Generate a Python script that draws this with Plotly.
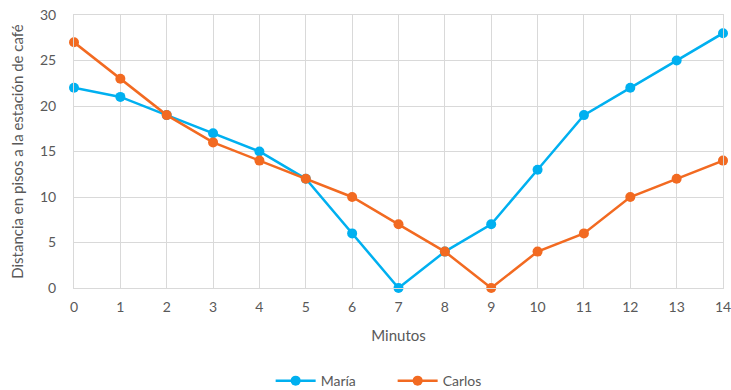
import plotly.graph_objects as go

minutos = list(range(15))
maria = [22, 21, 19, 17, 15, 12, 6, 0, 4, 7, 13, 19, 22, 25, 28]
carlos = [27, 23, 19, 16, 14, 12, 10, 7, 4, 0, 4, 6, 10, 12, 14]

font_color = "#595959"
grid_color = "#D9D9D9"
font_family = "Lato, Open Sans, sans-serif"

fig = go.Figure()
fig.add_trace(go.Scatter(
    x=minutos, y=maria, name="María", mode="lines+markers",
    line=dict(color="#00B0F0", width=2.5),
    marker=dict(size=10, color="#00B0F0"),
    cliponaxis=False,
))
fig.add_trace(go.Scatter(
    x=minutos, y=carlos, name="Carlos", mode="lines+markers",
    line=dict(color="#F26A21", width=2.5),
    marker=dict(size=10, color="#F26A21"),
    cliponaxis=False,
))

fig.update_layout(
    width=731, height=390,
    margin=dict(l=74, r=8, t=15, b=102, autoexpand=False),
    paper_bgcolor="white", plot_bgcolor="white",
    font=dict(family=font_family, size=14, color=font_color),
    showlegend=True,
    legend=dict(orientation="h", x=0.303, xanchor="left",
                yref="container", y=0.023, yanchor="middle",
                font=dict(size=14, color=font_color), itemwidth=40, tracegroupgap=0,
                entrywidth=67, entrywidthmode="pixels"),
    xaxis=dict(
        range=[0, 14], tickmode="array", tickvals=minutos,
        showgrid=True, gridcolor=grid_color, gridwidth=1,
        showline=True, linecolor=grid_color, linewidth=1, mirror=True,
        zeroline=False, ticks="outside", ticklen=6, tickcolor="rgba(0,0,0,0)",
        automargin=False, ticklabeloverflow="allow",
        title=dict(text="Minutos", font=dict(size=15, color=font_color), standoff=16),
    ),
    yaxis=dict(
        range=[0, 30], tickmode="array", tickvals=[0, 5, 10, 15, 20, 25, 30],
        showgrid=True, gridcolor=grid_color, gridwidth=1,
        showline=True, linecolor=grid_color, linewidth=1, mirror=True,
        zeroline=False, ticks="outside", ticklen=14, tickcolor="rgba(0,0,0,0)",
        automargin=False, ticklabeloverflow="allow",
        title=dict(text="Distancia en pisos a la estación de café", font=dict(size=15, color=font_color), standoff=12),
    ),
)

fig.write_html("out.html")
